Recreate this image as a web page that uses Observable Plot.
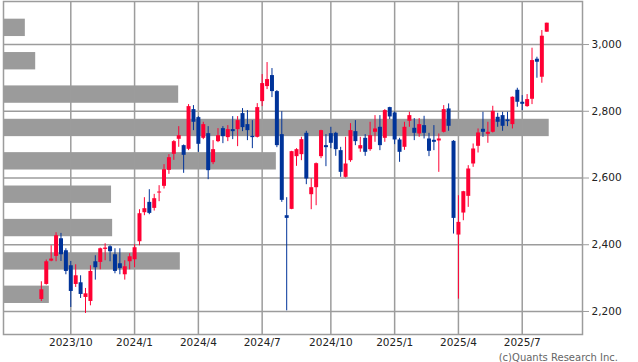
<!DOCTYPE html>
<html>
<head>
<meta charset="utf-8">
<script src="https://cdn.jsdelivr.net/npm/d3@7"></script>
<script src="https://cdn.jsdelivr.net/npm/@observablehq/plot@0.6"></script>
<style>
  html, body { margin: 0; padding: 0; background: #fff; overflow: hidden; }
  #wrap { position: relative; width: 638px; height: 362px; }
  #chart { position: absolute; left: 0; top: 0; width: 638px; height: 350px; }
  #chart svg { position: absolute; left: 0; top: 0; }
  #credit { position: absolute; right: 20px; top: 352px; font: 10px "DejaVu Sans", sans-serif; line-height: 12px; color: #666; white-space: nowrap; }
</style>
</head>
<body>
<div id="wrap">
  <div id="chart"></div>
  <div id="credit">(c)Quants Research Inc.</div>
</div>
<script>
// Weekly candles (week starting Monday)
const weeks = [
  "2023-08-21","2023-08-28","2023-09-04","2023-09-11","2023-09-18","2023-09-25",
  "2023-10-02","2023-10-09","2023-10-16","2023-10-23","2023-10-30","2023-11-06","2023-11-13","2023-11-20","2023-11-27",
  "2023-12-04","2023-12-11","2023-12-18","2023-12-25",
  "2024-01-01","2024-01-08","2024-01-15","2024-01-22","2024-01-29","2024-02-05","2024-02-12","2024-02-19","2024-02-26",
  "2024-03-04","2024-03-11","2024-03-18","2024-03-25",
  "2024-04-01","2024-04-08","2024-04-15","2024-04-22","2024-04-29","2024-05-06","2024-05-13","2024-05-20","2024-05-27",
  "2024-06-03","2024-06-10","2024-06-17","2024-06-24",
  "2024-07-01","2024-07-08","2024-07-15","2024-07-22","2024-07-29","2024-08-05","2024-08-12","2024-08-19","2024-08-26",
  "2024-09-02","2024-09-09","2024-09-16","2024-09-23","2024-09-30",
  "2024-10-07","2024-10-14","2024-10-21","2024-10-28","2024-11-04","2024-11-11","2024-11-18","2024-11-25",
  "2024-12-02","2024-12-09","2024-12-16","2024-12-23","2024-12-30",
  "2025-01-06","2025-01-13","2025-01-20","2025-01-27","2025-02-03","2025-02-10","2025-02-17","2025-02-24",
  "2025-03-03","2025-03-10","2025-03-17","2025-03-24","2025-03-31",
  "2025-04-07","2025-04-14","2025-04-21","2025-04-28","2025-05-05","2025-05-12","2025-05-19","2025-05-26",
  "2025-06-02","2025-06-09","2025-06-16","2025-06-23","2025-06-30",
  "2025-07-07","2025-07-14","2025-07-21","2025-07-28","2025-08-04","2025-08-11"
];
const open = [
  2236,2281,2351,2365,2418,2382,
  2337,2281,2286,2242,2230,2349,2347,2386,2394,
  2370,2343,2310,2349,
  2355,2409,2496,2527,2509,2555,2575,2623,2671,
  2716,2697,2686,2805,
  2781,2719,2733,2646,2709,2748,2721,2745,2745,
  2793,2760,2725,2722,
  2829,2874,2907,2859,2730,2487,2506,2664,2670,
  2734,2550,2571,2664,2697,
  2733,2734,2682,2602,2652,2739,2687,2719,
  2685,2737,2752,2719,2811,
  2795,2714,2692,2770,2749,2732,2757,2717,
  2713,2711,2737,2807,2710,
  2429,2495,2545,2642,2695,2746,2731,2737,
  2782,2787,2774,2760,2863,
  2827,2814,2836,2956,2902,3037
];
const high = [
  2289,2354,2397,2436,2434,2388,
  2350,2340,2307,2269,2337,2367,2390,2403,2397,
  2388,2388,2352,2373,
  2400,2505,2541,2565,2551,2577,2640,2670,2712,
  2754,2699,2820,2817,
  2784,2767,2754,2712,2748,2754,2757,2784,2784,
  2808,2802,2772,2823,
  2910,2946,2928,2862,2799,2541,2680,2688,2722,
  2740,2598,2645,2743,2730,
  2752,2737,2692,2722,2763,2772,2722,2730,
  2767,2787,2787,2805,2812,
  2798,2719,2767,2797,2778,2778,2785,2734,
  2757,2732,2817,2822,2712,
  2547,2560,2637,2702,2747,2797,2767,2815,
  2794,2797,2797,2843,2869,
  2847,2850,2989,2962,3042,3064
];
const low = [
  2230,2279,2349,2349,2350,2310,
  2212,2272,2239,2194,2217,2294,2325,2352,2349,
  2313,2310,2294,2325,
  2331,2397,2487,2490,2501,2529,2567,2611,2653,
  2692,2614,2682,2742,
  2677,2715,2595,2640,2706,2703,2709,2715,2694,
  2739,2712,2688,2720,
  2814,2865,2841,2691,2527,2202,2505,2635,2652,
  2580,2505,2517,2658,2634,
  2688,2665,2602,2600,2647,2697,2677,2665,
  2680,2707,2682,2707,2775,
  2700,2647,2683,2752,2712,2722,2717,2664,
  2682,2617,2735,2740,2432,
  2237,2472,2512,2632,2675,2722,2704,2735,
  2752,2740,2754,2747,2812,
  2802,2812,2820,2899,2884,3037
];
const close = [
  2265,2349,2357,2427,2370,2320,
  2260,2307,2251,2253,2320,2331,2388,2390,2379,
  2320,2329,2334,2364,
  2391,2493,2508,2494,2538,2558,2625,2661,2709,
  2727,2668,2814,2767,
  2701,2760,2622,2685,2727,2724,2745,2739,2772,
  2751,2742,2721,2811,
  2883,2895,2859,2697,2533,2479,2679,2685,2715,
  2597,2571,2643,2742,2691,
  2704,2685,2617,2642,2742,2709,2697,2677,
  2727,2747,2697,2802,2783,
  2714,2677,2752,2787,2734,2760,2734,2680,
  2707,2717,2805,2755,2479,
  2467,2559,2627,2687,2735,2737,2737,2800,
  2767,2755,2769,2842,2827,
  2821,2835,2952,2947,3025,3064
];

// Volume-by-price profile (bin lower bound, share of the largest bin in %)
const binLow = [2200, 2300, 2400, 2500, 2600, 2700, 2800, 2900, 3000];
const binShare = [8.4, 32.4, 20.0, 19.8, 50.0, 100, 32.1, 5.9, 4.0];
const binSize = 100;

// Axis ticks
const yTicks = [2200, 2400, 2600, 2800, 3000];
const xTickWeeks = ["2023-10-02","2024-01-01","2024-04-01","2024-07-01","2024-10-07","2025-01-06","2025-04-07","2025-07-07"];

const RED = "#ff0033", BLUE = "#003399", GRID = "#9c9c9c", BAR = "#9b9b9b";
const candles = weeks.map((w, i) => ({date: new Date(w), open: open[i], high: high[i], low: low[i], close: close[i]}));
const up = candles.filter(d => d.close >= d.open);
const down = candles.filter(d => d.close < d.open);
const profile = binLow.map((lo, i) => ({lo, hi: lo + binSize, share: binShare[i]}));
const tickDates = xTickWeeks.map(s => new Date(s));

const W = 638, H = 350, ML = 3, MR = 56, MT = 1, MB = 16;
const yDomain = [2131, 3129];

const back = Plot.plot({
  width: W, height: H, marginLeft: ML, marginRight: MR, marginTop: MT, marginBottom: MB,
  x: {domain: [0, 106.1], axis: null},
  y: {domain: yDomain, axis: null},
  style: {background: "white"},
  marks: [
    Plot.rectX(profile, {x: "share", y1: "lo", y2: "hi", insetTop: 8, insetBottom: 8, fill: BAR})
  ]
});

const front = Plot.plot({
  width: W, height: H, marginLeft: ML, marginRight: MR, marginTop: MT, marginBottom: MB,
  x: {type: "utc", domain: [new Date("2023-06-28"), new Date("2025-10-01")]},
  y: {domain: yDomain},
  style: {background: "transparent", fontFamily: "'DejaVu Sans', sans-serif", fontSize: "10.5px", color: "#222"},
  marks: [
    Plot.ruleY(yTicks, {stroke: GRID, strokeWidth: 1.5}),
    Plot.ruleX(tickDates, {stroke: GRID, strokeWidth: 1.5}),
    Plot.ruleX(up, {x: "date", y1: "low", y2: "high", stroke: RED, strokeWidth: 1}),
    Plot.ruleX(up, {x: "date", y1: "open", y2: "close", stroke: RED, strokeWidth: 4}),
    Plot.ruleX(down, {x: "date", y1: "low", y2: "high", stroke: BLUE, strokeWidth: 1}),
    Plot.ruleX(down, {x: "date", y1: "open", y2: "close", stroke: BLUE, strokeWidth: 4}),
    Plot.frame({stroke: GRID, strokeWidth: 1.5}),
    Plot.axisY(yTicks, {anchor: "right", tickSize: 6, tickPadding: 3, tickFormat: d3.format(","), stroke: GRID, label: null}),
    Plot.axisX(tickDates, {anchor: "bottom", tickSize: 0, tickPadding: 4, tickFormat: d3.utcFormat("%Y/%-m"), label: null})
  ]
});

const chart = document.getElementById("chart");
chart.appendChild(back);
chart.appendChild(front);
</script>
</body>
</html>
